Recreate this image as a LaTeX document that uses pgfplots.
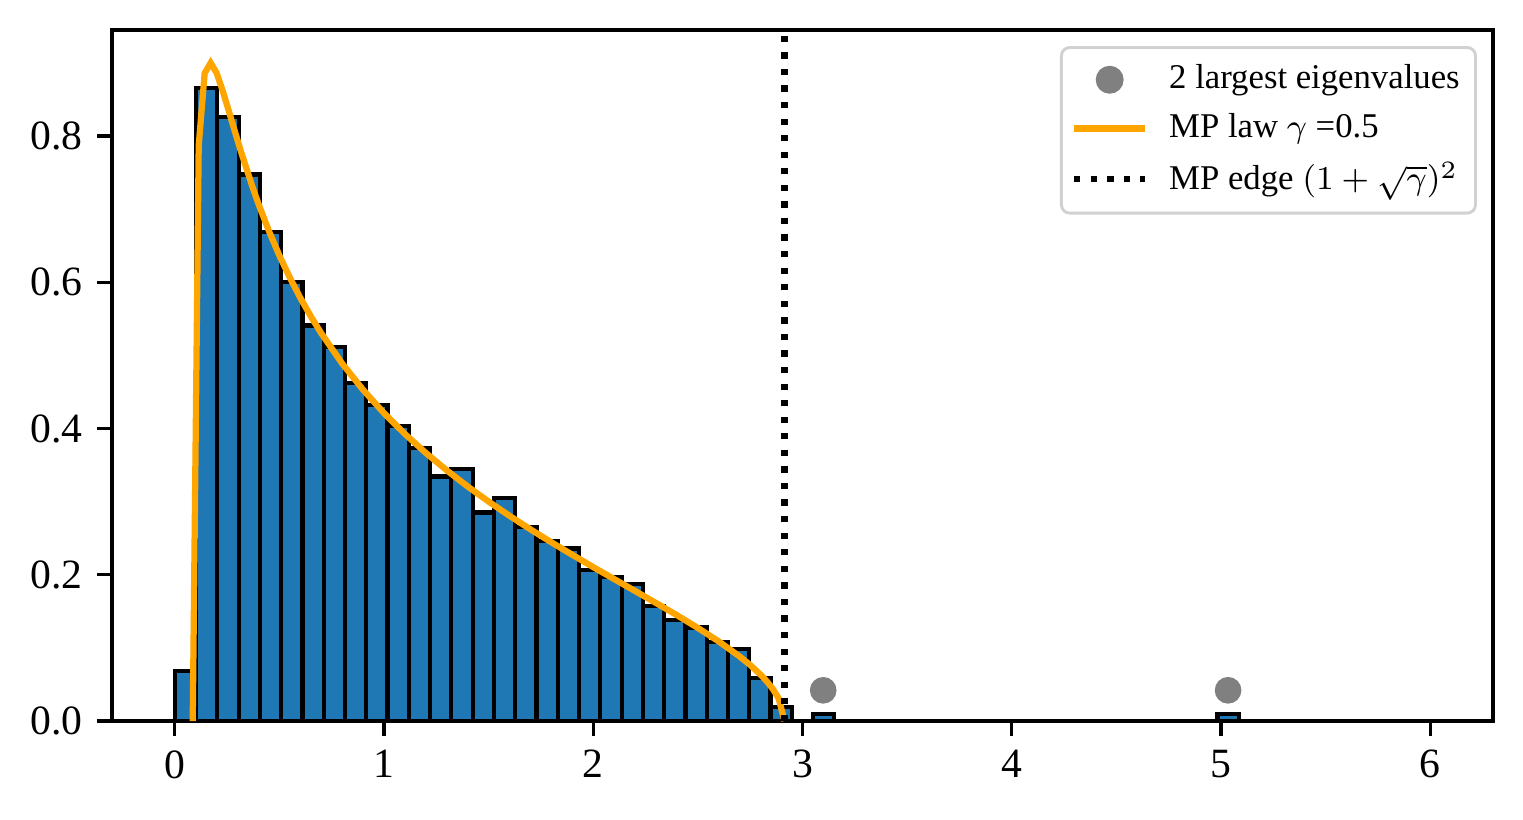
\documentclass[border=0pt]{standalone}
\usepackage{fontspec}
\setmainfont{Liberation Serif}
\usepackage{pgfplots}
\pgfplotsset{compat=1.18}
\definecolor{mplblue}{HTML}{1F77B4}
\definecolor{mplorange}{HTML}{FFA500}
\definecolor{mplgray}{HTML}{808080}
\begin{document}
\begin{tikzpicture}
\path[use as bounding box] (-26.88pt,-23.52pt) rectangle (338.64pt,173.04pt);
\begin{axis}[
  scale only axis,
  width=331.44pt, height=165.84pt,
  xmin=-0.3, xmax=6.3, ymin=0, ymax=0.945,
  xtick={0,1,2,3,4,5,6},
  ytick={0,0.2,0.4,0.6,0.8},
  y tick label style={/pgf/number format/.cd, fixed, fixed zerofill, precision=1, /tikz/.cd},
  /pgf/number format/assume math mode=true,
  tick align=outside, tick pos=left,
  major tick length=3.5pt,
  every tick/.style={black, line width=0.8pt},
  axis line style={line width=0.8pt},
  tick label style={font=\fontsize{10}{12}\selectfont},
  legend cell align=left,
  legend style={at={(1,1)}, xshift=-3.85pt, yshift=-3.85pt, anchor=north east,
    draw=black!18, line width=0.7pt, rounded corners=2pt, fill=white,
    font=\fontsize{8.33}{10}\selectfont,
    inner xsep=2.3pt, inner ysep=2.6pt, row sep=1.4pt, column sep=3.5pt,
    nodes={inner sep=1.5pt}},
]
% histogram, 59 bins of width 6/59 on [0,6], density
\addplot[ybar interval, fill=mplblue, draw=black, line width=1pt, forget plot] coordinates {
(0.00000,0.06883) (0.10169,0.86533) (0.20339,0.82600) (0.30508,0.74733)
(0.40678,0.66867) (0.50847,0.59983) (0.61017,0.54083) (0.71186,0.51133)
(0.81356,0.46217) (0.91525,0.43267) (1.01695,0.40317) (1.11864,0.37367)
(1.22034,0.33433) (1.32203,0.34417) (1.42373,0.28517) (1.52542,0.30483)
(1.62712,0.26550) (1.72881,0.24583) (1.83051,0.23600) (1.93220,0.20650)
(2.03390,0.19667) (2.13559,0.18683) (2.23729,0.15733) (2.33898,0.13767)
(2.44068,0.12783) (2.54237,0.10817) (2.64407,0.09833) (2.74576,0.05900)
(2.84746,0.01967) (2.94915,0.00000) (3.05085,0.00983) (3.15254,0.00000)
(4.98305,0.00983) (5.08475,0.00000) (6.00000,0.00000)
};
\addplot[only marks, mark=*, mark size=3pt, draw=mplgray, fill=mplgray] coordinates {
(3.099,0.042) (5.034,0.042)
};
\addlegendentry{2 largest eigenvalues}
\addplot[mplorange, line width=1.5pt] coordinates {
(0.0858,0) (0.1144,0.787) (0.1429,0.886) (0.1715,0.900) (0.2001,0.8861)
(0.2287,0.8622) (0.2572,0.8352) (0.2858,0.8076) (0.3144,0.7805) (0.3715,0.7303)
(0.40,0.7073) (0.45,0.6701) (0.50,0.6366) (0.55,0.6063) (0.60,0.5787)
(0.65,0.5535) (0.70,0.5303) (0.80,0.4889) (0.90,0.4529) (1.00,0.4211)
(1.10,0.3925) (1.20,0.3666) (1.30,0.3428) (1.40,0.3207) (1.50,0.3001)
(1.60,0.2806) (1.70,0.2621) (1.80,0.2444) (1.90,0.2273) (2.00,0.2105)
(2.10,0.1941) (2.20,0.1778) (2.30,0.1614) (2.40,0.1447) (2.50,0.1273)
(2.60,0.1088) (2.70,0.0882) (2.75,0.0766) (2.80,0.0633) (2.8285,0.0546)
(2.8571,0.0443) (2.8856,0.0312) (2.9142,0)
};
\addlegendentry{MP law $\gamma$ =0.5}
\addplot[black, line width=1.5pt, dash pattern=on 1.5pt off 2.475pt] coordinates {
(2.9142,0) (2.9142,0.945)
};
\addlegendentry{MP edge $(1+\sqrt{\gamma})^2$}
\end{axis}
\end{tikzpicture}
\end{document}
